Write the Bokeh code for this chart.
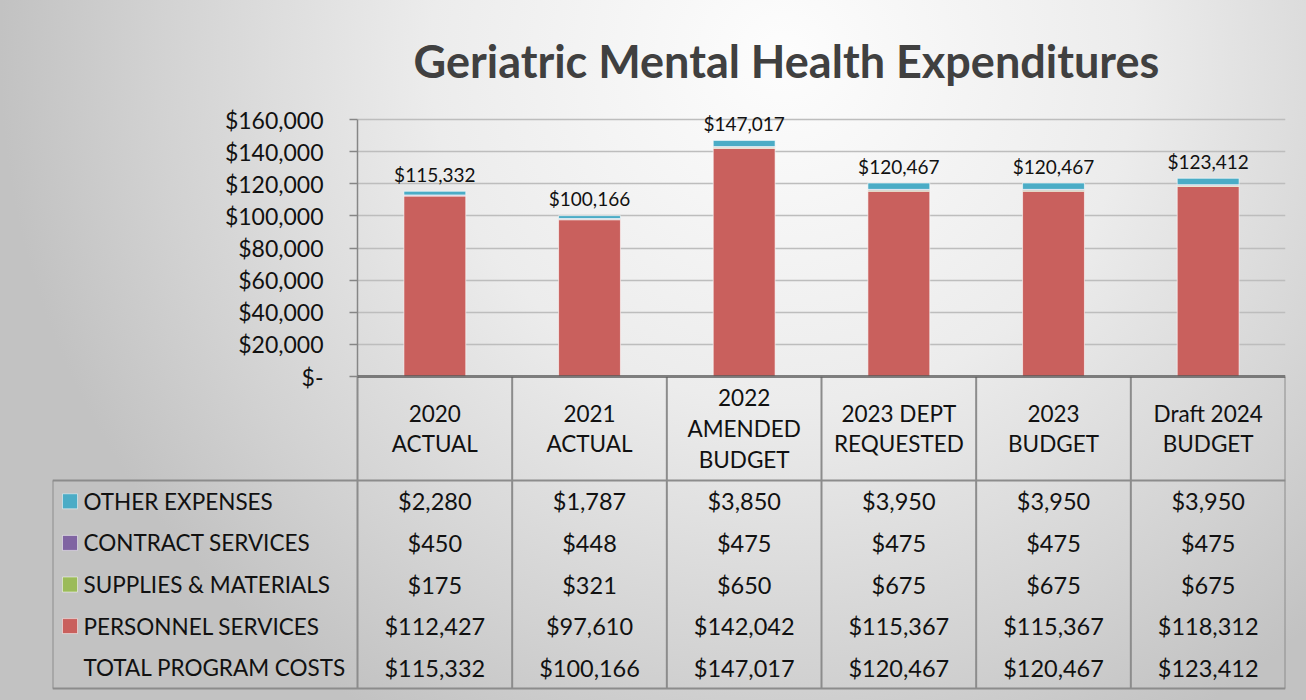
from bokeh.plotting import figure
from bokeh.models import FactorRange, Range1d, FixedTicker, ColumnDataSource, Span
from bokeh.layouts import column
from bokeh.embed import file_html
from bokeh.resources import INLINE
from bokeh.core.properties import value

# ---------------- data ----------------
title_text = "Geriatric Mental Health Expenditures"
categories = ["2020 ACTUAL", "2021 ACTUAL", "2022 AMENDED BUDGET",
              "2023 DEPT REQUESTED", "2023 BUDGET", "Draft 2024 BUDGET"]
header_labels = ["2020\nACTUAL", "2021\nACTUAL", "2022\nAMENDED\nBUDGET",
                 "2023 DEPT\nREQUESTED", "2023\nBUDGET", "Draft 2024\nBUDGET"]
other_expenses = [2280, 1787, 3850, 3950, 3950, 3950]
contract_services = [450, 448, 475, 475, 475, 475]
supplies_materials = [175, 321, 650, 675, 675, 675]
personnel_services = [112427, 97610, 142042, 115367, 115367, 118312]
total_program_costs = [115332, 100166, 147017, 120467, 120467, 123412]
row_names = ["OTHER EXPENSES", "CONTRACT SERVICES", "SUPPLIES & MATERIALS",
             "PERSONNEL SERVICES", "TOTAL PROGRAM COSTS"]
y_ticks = [0, 20000, 40000, 60000, 80000, 100000, 120000, 140000, 160000]
y_tick_labels = ["$-", "$20,000", "$40,000", "$60,000", "$80,000",
                 "$100,000", "$120,000", "$140,000", "$160,000"]

# ---------------- style ----------------
FONT = "Lato"
C_OTHER = "#4BACC6"
C_CONTRACT = "#8064A2"
C_SUPPLIES = "#9BBB59"
C_PERSONNEL = "#C9605D"
GRID = "#bdbdbd"
TABLE_LINE = "#8c8c8c"
DARK_LINE = "#5a5a5a"
TXT = "#111111"

W = 1306
TOP_H = 376
OVERLAP = 16                # extra transparent strip under the bar chart for the "$-" label
BOT_H = 324
COL_PX = 928 / 6.0          # width of one category column
LABEL_PX = 305              # width of row-label column
ROW_PX = 41.6
HEADER_PX = 104


def money(v):
    return "${:,}".format(v)


n = len(categories)

# ---------------- bar chart ----------------
src = ColumnDataSource(dict(
    cat=categories,
    personnel=personnel_services,
    supplies=supplies_materials,
    contract=contract_services,
    other=other_expenses,
    total=total_program_costs,
    total_label=[money(v) for v in total_program_costs],
))

p1 = figure(width=W, height=TOP_H + OVERLAP, x_range=FactorRange(*categories),
            y_range=Range1d(0, 165000), output_backend="svg",
            toolbar_location=None, x_axis_location=None,
            min_border_left=357, min_border_right=21,
            min_border_top=111, min_border_bottom=OVERLAP)
p1.frame_align = False
p1.background_fill_alpha = 0
p1.border_fill_alpha = 0
p1.outline_line_color = None

p1.title.text = title_text
p1.title.align = "left"
p1.title.offset = 56
p1.title.standoff = 48
p1.title.text_font = FONT
p1.title.text_font_size = "45px"
p1.title.text_font_style = "bold"
p1.title.text_color = "#404040"

ticker = FixedTicker(ticks=y_ticks)
yax = p1.yaxis[0]
yax.ticker = ticker
yax.major_label_overrides = dict(zip(y_ticks, y_tick_labels))
yax.bounds = (0, 160000)
yax.axis_line_color = "#868686"
yax.axis_line_width = 1.5
yax.major_tick_line_color = "#868686"
yax.major_tick_line_width = 1.5
yax.major_tick_out = 8
yax.major_tick_in = 0
yax.minor_tick_out = 0
yax.minor_tick_in = 0
yax.major_label_standoff = 26
yax.major_label_text_font = FONT
yax.major_label_text_font_size = "23px"
yax.major_label_text_color = TXT

p1.ygrid.ticker = ticker
p1.ygrid.grid_line_color = GRID
p1.ygrid.grid_line_width = 1.5
p1.xgrid.visible = False

p1.vbar_stack(["personnel", "supplies", "contract", "other"], x="cat", width=0.4,
              color=[C_PERSONNEL, C_SUPPLIES, C_CONTRACT, C_OTHER],
              line_color="white", line_alpha=0.6, line_width=1, source=src)

p1.text(x="cat", y="total", text="total_label", source=src,
        text_align="center", text_baseline="middle", y_offset=-17,
        text_font=value(FONT), text_font_size="19px", text_color=TXT)

p1.add_layout(Span(location=0, dimension="width", line_color=DARK_LINE, line_width=2.5))

# ---------------- data table ----------------
label_w = LABEL_PX / COL_PX
header_h = HEADER_PX / ROW_PX
n_rows = len(row_names)
pad_bottom = (BOT_H - HEADER_PX - n_rows * ROW_PX) / ROW_PX

p2 = figure(width=W, height=BOT_H, x_range=Range1d(-label_w, n),
            y_range=Range1d(n_rows + pad_bottom, -header_h),
            output_backend="svg", toolbar_location=None,
            x_axis_location=None, y_axis_location=None,
            min_border_left=52, min_border_right=21,
            min_border_top=0, min_border_bottom=0,
            styles={"margin-top": "-%dpx" % OVERLAP})
p2.frame_align = False
p2.background_fill_alpha = 0
p2.border_fill_alpha = 0
p2.outline_line_color = None
p2.grid.visible = False

# borders
x0, y0, x1, y1 = [], [], [], []
for j in range(n + 1):
    x0.append(j); y0.append(-header_h); x1.append(j); y1.append(n_rows)
x0.append(-label_w); y0.append(0); x1.append(-label_w); y1.append(n_rows)
for yy in (0, n_rows):
    x0.append(-label_w); y0.append(yy); x1.append(n); y1.append(yy)
p2.segment(x0=x0, y0=y0, x1=x1, y1=y1, line_color=TABLE_LINE, line_width=2)
p2.segment(x0=[0], y0=[-header_h], x1=[n], y1=[-header_h],
           line_color=DARK_LINE, line_width=2.5)

# header
p2.text(x=[j + 0.5 for j in range(n)], y=[-header_h / 2] * n, text=header_labels,
        text_align="center", text_baseline="middle", text_line_height=1.13,
        text_font=value(FONT), text_font_size="22.5px", text_color=TXT)

# values
rows = [other_expenses, contract_services, supplies_materials,
        personnel_services, total_program_costs]
vx, vy, vt = [], [], []
for i, r in enumerate(rows):
    for j, v in enumerate(r):
        vx.append(j + 0.5); vy.append(i + 0.5); vt.append(money(v))
p2.text(x=vx, y=vy, text=vt, text_align="center", text_baseline="middle",
        text_font=value(FONT), text_font_size="23.5px", text_color=TXT)

# row labels and legend keys
p2.text(x=[-label_w + 31 / COL_PX] * n_rows, y=[i + 0.5 for i in range(n_rows)],
        text=row_names, text_align="left", text_baseline="middle",
        text_font=value(FONT), text_font_size="22.5px", text_color=TXT)
p2.scatter(x=[-label_w + 17.5 / COL_PX] * 4, y=[0.5, 1.5, 2.5, 3.5], marker="square",
           size=15, color=[C_OTHER, C_CONTRACT, C_SUPPLIES, C_PERSONNEL],
           line_color="white", line_alpha=0.5)

layout = column(p1, p2, styles={
    "background": "radial-gradient(ellipse 60% 110% at 60% 8%, #fdfdfd 0%, #ececec 45%, #d2d2d2 80%, #c2c2c2 100%)"
})

open("out.html", "w").write(file_html(layout, INLINE))
